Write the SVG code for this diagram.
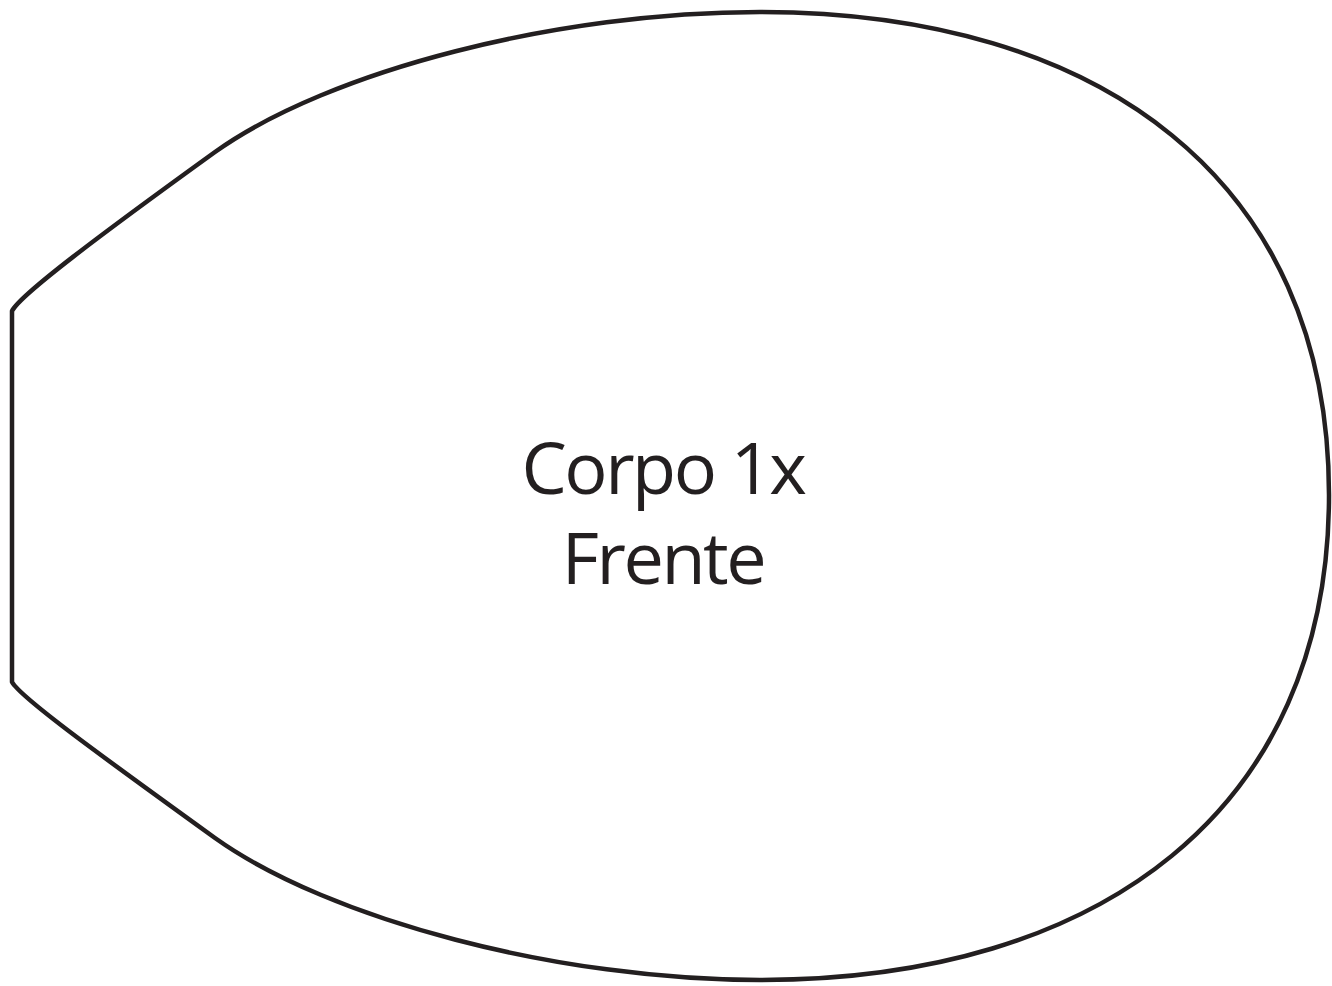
<svg xmlns="http://www.w3.org/2000/svg" width="1332" height="986" viewBox="0 0 1332 986">
<style>
.outline{fill:#fff;stroke:#231f20;stroke-width:4.5;stroke-linejoin:round}
.lbl{font-family:"Open Sans","Noto Sans",sans-serif;font-size:72px;letter-spacing:-2.5px;fill:#231f20;text-anchor:middle}
</style>
<rect width="1332" height="986" fill="#fff"/>
<g id="corpo">
<path class="outline" d="M12,311 C20,295 100,235 215,152 C330,70 560,12 760,12 C1100,12 1329,180 1329,495 C1329,810 1100,980 760,980 C560,980 330,920 215,838 C100,755 20,697 12,682 Z"/>
<text class="lbl" x="663" y="494">Corpo 1x</text>
<text class="lbl" x="663" y="584">Frente</text>
</g>
<g id="connectors"/>
</svg>
